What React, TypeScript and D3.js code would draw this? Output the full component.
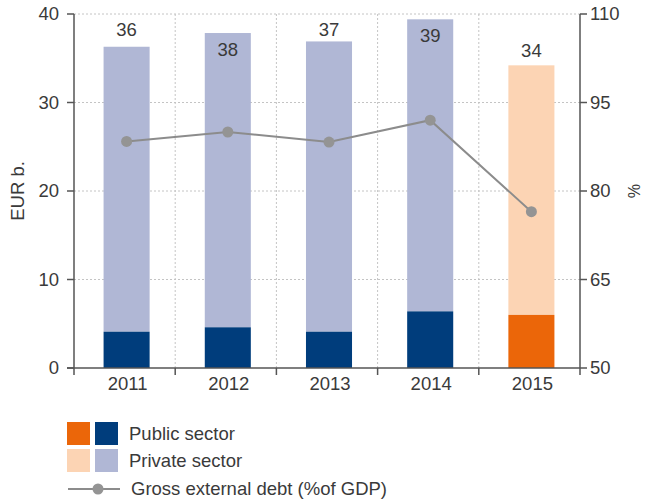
import React from "react";
import * as d3 from "d3";

const years = ["2011", "2012", "2013", "2014", "2015"];
const publicSector = [4.1, 4.6, 4.1, 6.4, 6.0];
const privateSector = [32.2, 33.25, 32.8, 33.0, 28.2];
const totalLabels = ["36", "38", "37", "39", "34"];
const grossDebtPct = [88.4, 90.0, 88.3, 92.0, 76.5];
const isForecast = [false, false, false, false, true];
const leftTicks = [0, 10, 20, 30, 40];
const rightTicks = [50, 65, 80, 95, 110];

const W = 645;
const H = 501;
const M = { left: 74, right: 580, top: 14, bottom: 368 };
const FONT = "'Liberation Sans', Arial, sans-serif";
const TXT = "#3a3a3a";
const AX = "#555";
const GRID = "#c4c4c4";
const C = {
  pubBlue: "#003d7c",
  privBlue: "#b0b7d5",
  pubOrange: "#eb6609",
  privOrange: "#fcd4b4",
  line: "#8c8c8c",
  dot: "#949494",
};

export default function App() {
  const x = d3.scaleBand<string>().domain(years).range([M.left, M.right]).paddingInner(0.545).paddingOuter(0.2725);
  const yL = d3.scaleLinear().domain([0, 40]).range([M.bottom, M.top]);
  const yR = d3.scaleLinear().domain([50, 110]).range([M.bottom, M.top]);
  const step = (M.right - M.left) / years.length;
  const bounds = d3.range(1, years.length).map((i) => M.left + i * step);
  const shift = 2;
  const bx = (y: string) => (x(y) as number) + shift;
  const cx = (y: string) => bx(y) + x.bandwidth() / 2;
  const tx = (y: string) => (x(y) as number) + x.bandwidth() / 2;

  const line = d3
    .line<number>()
    .x((_, i) => cx(years[i]))
    .y((d) => yR(d));

  const fs = 18.5;

  return (
    <svg width={W} height={H} style={{ position: "absolute", left: 0, top: 0, background: "#fff" }} fontFamily={FONT}>
      {leftTicks.slice(1).map((t) => (
        <line key={"hg" + t} x1={M.left} x2={M.right} y1={yL(t)} y2={yL(t)} stroke={GRID} strokeDasharray="2,2" />
      ))}
      {bounds.map((b, i) => (
        <line key={"vg" + i} x1={b} x2={b} y1={M.top} y2={M.bottom} stroke={GRID} strokeDasharray="2,2" />
      ))}
      {years.map((yr, i) => {
        const pub = publicSector[i];
        const tot = pub + privateSector[i];
        const f = isForecast[i];
        return (
          <g key={yr}>
            <rect x={bx(yr)} width={x.bandwidth()} y={yL(tot)} height={yL(pub) - yL(tot)} fill={f ? C.privOrange : C.privBlue} />
            <rect x={bx(yr)} width={x.bandwidth()} y={yL(pub)} height={yL(0) - yL(pub)} fill={f ? C.pubOrange : C.pubBlue} />
          </g>
        );
      })}
      {years.map((yr, i) => {
        const tot = publicSector[i] + privateSector[i];
        const top = yL(tot);
        let ly: number;
        if (isForecast[i]) ly = top - 15;
        else ly = top >= 40 ? 30 : top + 16;
        return (
          <text key={"lb" + yr} x={cx(yr)} y={ly} dy="0.35em" textAnchor="middle" fontSize={fs} fill={TXT}>
            {totalLabels[i]}
          </text>
        );
      })}
      <path d={line(grossDebtPct) || ""} fill="none" stroke={C.line} strokeWidth={2} />
      {grossDebtPct.map((v, i) => (
        <circle key={"pt" + i} cx={cx(years[i])} cy={yR(v)} r={5.5} fill={C.dot} />
      ))}
      <line x1={M.left} x2={M.left} y1={M.top} y2={M.bottom + 7} stroke={AX} strokeWidth={1.5} />
      {leftTicks.map((t) => (
        <g key={"lt" + t}>
          <line x1={M.left - 7} x2={M.left} y1={yL(t)} y2={yL(t)} stroke={AX} strokeWidth={1.5} />
          <text x={M.left - 15} y={yL(t)} dy="0.35em" textAnchor="end" fontSize={fs} fill={TXT}>
            {t}
          </text>
        </g>
      ))}
      <line x1={M.right} x2={M.right} y1={M.top} y2={M.bottom + 7} stroke={AX} strokeWidth={1.5} />
      {rightTicks.map((t) => (
        <g key={"rt" + t}>
          <line x1={M.right} x2={M.right + 7} y1={yR(t)} y2={yR(t)} stroke={AX} strokeWidth={1.5} />
          <text x={M.right + 10} y={yR(t)} dy="0.35em" textAnchor="start" fontSize={fs} fill={TXT}>
            {t}
          </text>
        </g>
      ))}
      <line x1={M.left - 7} x2={M.right} y1={M.bottom} y2={M.bottom} stroke={AX} strokeWidth={1.5} />
      {bounds.map((b, i) => (
        <line key={"bt" + i} x1={b} x2={b} y1={M.bottom} y2={M.bottom + 7} stroke={AX} strokeWidth={1.5} />
      ))}
      {years.map((yr) => (
        <text key={"xl" + yr} x={tx(yr) + 3} y={M.bottom + 16} dy="0.35em" textAnchor="middle" fontSize={fs} fill={TXT}>
          {yr}
        </text>
      ))}
      <text transform={`translate(18,${(M.top + M.bottom) / 2}) rotate(-90)`} textAnchor="middle" dy="0.35em" fontSize={fs} fill={TXT}>
        EUR b.
      </text>
      <text transform={`translate(634,${(M.top + M.bottom) / 2}) rotate(90)`} textAnchor="middle" dy="0.35em" fontSize={16} fill={TXT}>
        %
      </text>
      <rect x={67} y={422} width={23} height={23} fill={C.pubOrange} />
      <rect x={95} y={422} width={23} height={23} fill={C.pubBlue} />
      <rect x={67} y={449} width={23} height={23} fill={C.privOrange} />
      <rect x={95} y={449} width={23} height={23} fill={C.privBlue} />
      <text x={129} y={434} dy="0.35em" fontSize={fs} fill={TXT}>Public sector</text>
      <text x={129} y={461} dy="0.35em" fontSize={fs} fill={TXT}>Private sector</text>
      <line x1={68} x2={120} y1={489} y2={489} stroke={C.line} strokeWidth={2} />
      <circle cx={98} cy={489} r={5.5} fill={C.dot} />
      <text x={131} y={489} dy="0.35em" fontSize={fs} fill={TXT}>Gross external debt (%of GDP)</text>
    </svg>
  );
}
